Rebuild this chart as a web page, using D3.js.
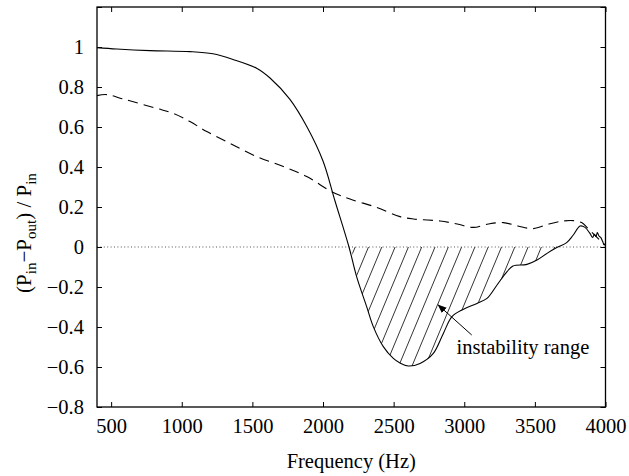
<!DOCTYPE html>
<html>
<head>
<meta charset="utf-8">
<script src="https://cdn.jsdelivr.net/npm/d3@7"></script>
<style>
  body { margin: 0; background: #fff; }
  text { font-family: "Liberation Serif", "Times New Roman", serif; fill: #000; }
</style>
</head>
<body>
<svg id="chart" width="629" height="476"></svg>
<script>
// solid curve
var solidFreq = [400, 540, 775, 1058, 1221, 1363, 1533, 1625, 1766, 1887, 2000, 2085, 2184,
  2238, 2309, 2356, 2427, 2498, 2545, 2604, 2687, 2781, 2852, 2913, 2991, 3090, 3161,
  3232, 3303, 3345, 3444, 3515, 3586, 3655, 3725, 3772, 3820, 3855, 3890, 3909, 3921,
  3933, 3942, 3954, 3966, 3980, 3991, 4000];
var solidVal = [0.997, 0.99, 0.982, 0.977, 0.966, 0.938, 0.893, 0.845, 0.738, 0.60, 0.43, 0.23, 0.0,
  -0.148, -0.298, -0.398, -0.498, -0.557, -0.58, -0.595, -0.582, -0.532, -0.432, -0.348, -0.312, -0.282, -0.257,
  -0.19, -0.123, -0.095, -0.087, -0.065, -0.032, -0.003, 0.022, 0.06, 0.105, 0.098, 0.068, 0.048, 0.063,
  0.052, 0.072, 0.055, 0.048, 0.027, 0.01, 0.02];

// dashed curve
var dashedFreq = [400, 469, 586, 823, 940, 1058, 1177, 1342, 1531, 1719, 1885, 2061, 2191,
  2380, 2545, 2640, 2829, 2950, 3064, 3170, 3277, 3380, 3489, 3600, 3701, 3772, 3831,
  3876, 3911, 3947, 3982, 4000];
var dashedVal = [0.757, 0.762, 0.74, 0.693, 0.668, 0.627, 0.577, 0.518, 0.452, 0.402, 0.352, 0.277, 0.24,
  0.198, 0.152, 0.14, 0.13, 0.115, 0.098, 0.115, 0.122, 0.105, 0.092, 0.115, 0.13, 0.132, 0.122,
  0.093, 0.068, 0.043, 0.018, 0.01];

var xTicks = [500, 1000, 1500, 2000, 2500, 3000, 3500, 4000];
var yTicks = [-0.8, -0.6, -0.4, -0.2, 0, 0.2, 0.4, 0.6, 0.8, 1, 1.2];
var yLabelTicks = [-0.8, -0.6, -0.4, -0.2, 0, 0.2, 0.4, 0.6, 0.8, 1];

var annotText = "instability range";
var annotTextPos = [2946, -0.535];
var arrowFrom = [3053, -0.44];
var arrowTo = [2816, -0.29];

var svg = d3.select('#chart');
var plotLeft = 97, plotTop = 7, plotRight = 605.5, plotBottom = 407;
var fontSize = 20.5;

var x = d3.scaleLinear().domain([400, 4000]).range([plotLeft, plotRight]);
var y = d3.scaleLinear().domain([-0.8, 1.2]).range([plotBottom, plotTop]);

var solid = solidFreq.map(function(f, i){ return [f, solidVal[i]]; });
var dashed = dashedFreq.map(function(f, i){ return [f, dashedVal[i]]; });
var smooth = d3.curveCatmullRom.alpha(0.5);

var defs = svg.append('defs');
defs.append('marker')
  .attr('id', 'arrowhead')
  .attr('viewBox', '0 0 10 10')
  .attr('refX', 9).attr('refY', 5)
  .attr('markerWidth', 9).attr('markerHeight', 9)
  .attr('markerUnits', 'userSpaceOnUse')
  .attr('orient', 'auto')
  .append('path').attr('d', 'M0,1 L10,5 L0,9 z').attr('fill', '#000');

// hatched region: where the solid curve is under zero
var hatchArea = d3.area()
  .x(function(d){ return x(d[0]); })
  .y0(y(0))
  .y1(function(d){ return y(Math.min(d[1], 0)); })
  .curve(smooth);

defs.append('clipPath').attr('id', 'hatchClip')
  .append('path').attr('d', hatchArea(solid));

var slope = 2.4, spacing = 13.3;
var hatchG = svg.append('g').attr('clip-path', 'url(#hatchClip)');
hatchG.selectAll('line')
  .data(d3.range(0, 60))
  .enter().append('line')
    .attr('x1', function(k){ return 302 + k * spacing; })
    .attr('y1', y(0))
    .attr('x2', function(k){ return 302 + k * spacing - (y(-0.8) - y(0)) / slope; })
    .attr('y2', y(-0.8))
    .attr('stroke', '#000')
    .attr('stroke-width', 0.8);

// zero line
svg.append('line')
  .attr('x1', x(400)).attr('x2', x(4000))
  .attr('y1', y(0)).attr('y2', y(0))
  .attr('stroke', '#555')
  .attr('stroke-width', 1)
  .attr('stroke-dasharray', '1,2.4');

var line = d3.line()
  .x(function(d){ return x(d[0]); })
  .y(function(d){ return y(d[1]); })
  .curve(smooth);

svg.append('path')
  .attr('d', line(dashed))
  .attr('fill', 'none')
  .attr('stroke', '#000')
  .attr('stroke-width', 1.1)
  .attr('stroke-dasharray', '10,6');

svg.append('path')
  .attr('d', line(solid))
  .attr('fill', 'none')
  .attr('stroke', '#000')
  .attr('stroke-width', 1.1);

// axes with inward ticks on all four sides
var tickLen = 5;
svg.append('g').attr('transform', 'translate(0,' + plotBottom + ')')
  .call(d3.axisBottom(x).tickValues(xTicks).tickSizeInner(-tickLen).tickSizeOuter(0).tickPadding(11).tickFormat(d3.format('d')));
svg.append('g').attr('transform', 'translate(0,' + plotTop + ')')
  .call(d3.axisTop(x).tickValues(xTicks).tickSizeInner(-tickLen).tickSizeOuter(0).tickFormat(''));
svg.append('g').attr('transform', 'translate(' + plotLeft + ',0)')
  .call(d3.axisLeft(y).tickValues(yTicks).tickSizeInner(-tickLen).tickSizeOuter(0).tickPadding(13)
    .tickFormat(function(d){ return yLabelTicks.indexOf(d) >= 0 ? d3.format('~g')(d) : ''; }));
svg.append('g').attr('transform', 'translate(' + plotRight + ',0)')
  .call(d3.axisRight(y).tickValues(yTicks).tickSizeInner(-tickLen).tickSizeOuter(0).tickFormat(''));

svg.selectAll('.domain').remove();
svg.selectAll('.tick line').attr('stroke', '#000').attr('stroke-width', 1);
svg.selectAll('.tick text')
  .style('font-family', '"Liberation Serif", "Times New Roman", serif')
  .style('font-size', fontSize + 'px')
  .attr('fill', '#000');

svg.append('rect')
  .attr('x', plotLeft).attr('y', plotTop)
  .attr('width', plotRight - plotLeft).attr('height', plotBottom - plotTop)
  .attr('fill', 'none')
  .attr('stroke', '#000')
  .attr('stroke-width', 1.3);

// axis titles
svg.append('text')
  .attr('x', (plotLeft + plotRight) / 2).attr('y', 468)
  .attr('text-anchor', 'middle')
  .style('font-size', fontSize + 'px')
  .text('Frequency (Hz)');

var yl = svg.append('text')
  .attr('transform', 'translate(31,233) rotate(-90)')
  .attr('text-anchor', 'middle')
  .style('font-size', '21px');
yl.append('tspan').text('(P');
yl.append('tspan').attr('dy', 5).style('font-size', '15px').text('in');
yl.append('tspan').attr('dy', -5).text('\u2212P');
yl.append('tspan').attr('dy', 5).style('font-size', '15px').text('out');
yl.append('tspan').attr('dy', -5).text(') / P');
yl.append('tspan').attr('dy', 5).style('font-size', '15px').text('in');

// annotation
svg.append('line')
  .attr('x1', x(arrowFrom[0])).attr('y1', y(arrowFrom[1]))
  .attr('x2', x(arrowTo[0])).attr('y2', y(arrowTo[1]))
  .attr('stroke', '#000').attr('stroke-width', 1)
  .attr('marker-end', 'url(#arrowhead)');

svg.append('text')
  .attr('x', x(annotTextPos[0])).attr('y', y(annotTextPos[1]))
  .style('font-size', fontSize + 'px')
  .text(annotText);
</script>
</body>
</html>
